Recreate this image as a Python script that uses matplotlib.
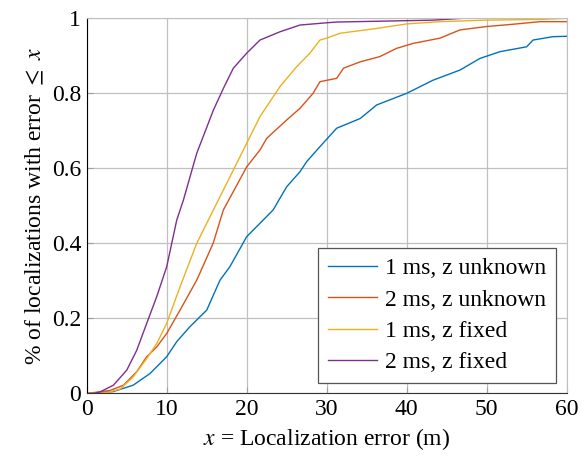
import matplotlib
matplotlib.use("Agg")
import matplotlib.pyplot as plt

plt.rcParams['font.family'] = ['Liberation Serif', 'DejaVu Serif']
plt.rcParams['mathtext.fontset'] = 'stix'

# Datos (error en m, fracción acumulada)
x_1ms_unk = [0, 3.3, 5.8, 7.9, 10, 11.25, 12.9, 15, 16.66, 17.9, 20, 23.3, 25, 26.66,
             27.5, 29.16, 31.25, 34.2, 36.25, 40, 43.3, 46.66, 49.16, 51.66, 55, 55.8, 58.3, 60]
y_1ms_unk = [0, 0.005, 0.022, 0.053, 0.098, 0.138, 0.178, 0.222, 0.302, 0.338, 0.418, 0.489, 0.551, 0.591,
             0.618, 0.658, 0.707, 0.733, 0.769, 0.8, 0.835, 0.862, 0.893, 0.911, 0.924, 0.942, 0.951, 0.952]

x_2ms_unk = [0, 2.9, 4.6, 6.25, 7.5, 8.75, 10, 11.66, 13.75, 15.8, 17.08, 20, 21.66, 22.5,
             25, 26.66, 28.3, 29.16, 31.25, 32.1, 34.2, 36.66, 38.75, 40.8, 44.16, 46.66,
             50, 53.75, 56.66, 60]
y_2ms_unk = [0, 0.008, 0.022, 0.058, 0.098, 0.124, 0.16, 0.222, 0.302, 0.4, 0.489, 0.604, 0.649, 0.68,
             0.729, 0.76, 0.8, 0.831, 0.84, 0.867, 0.884, 0.898, 0.92, 0.933, 0.947, 0.969,
             0.978, 0.985, 0.991, 0.991]

x_1ms_fix = [0, 2.5, 4.2, 5.8, 7.5, 8.75, 10, 11.66, 13.75, 15.83, 17.5, 20, 21.66, 24.16,
             26.25, 27.9, 29.16, 30, 31.66, 36.25, 40, 44.16, 50, 56.66, 60]
y_1ms_fix = [0, 0.002, 0.012, 0.044, 0.093, 0.133, 0.187, 0.284, 0.4, 0.489, 0.56, 0.667, 0.738, 0.818,
             0.871, 0.907, 0.942, 0.947, 0.96, 0.973, 0.985, 0.991, 0.995, 0.997, 1.0]

x_2ms_fix = [0, 0.8, 1.66, 3.33, 5, 6.25, 7.5, 8.75, 10, 11.25, 12.08, 13.75, 15.83, 17.08,
             18.33, 20, 21.66, 24.16, 26.66, 30, 31.25, 43.3, 47]
y_2ms_fix = [0, 0, 0.004, 0.022, 0.062, 0.115, 0.187, 0.258, 0.338, 0.462, 0.515, 0.64, 0.755, 0.813,
             0.867, 0.907, 0.942, 0.964, 0.982, 0.988, 0.99, 0.995, 1.0]

series = [
    ("1 ms, z unknown", x_1ms_unk, y_1ms_unk, "#0072BD"),
    ("2 ms, z unknown", x_2ms_unk, y_2ms_unk, "#D95319"),
    ("1 ms, z fixed", x_1ms_fix, y_1ms_fix, "#EDB120"),
    ("2 ms, z fixed", x_2ms_fix, y_2ms_fix, "#7E2F8E"),
]

xticks = [0, 10, 20, 30, 40, 50, 60]
yticks = [0, 0.2, 0.4, 0.6, 0.8, 1]
yticklabels = ["0", "0.2", "0.4", "0.6", "0.8", "1"]

fig = plt.figure(figsize=(5.86, 4.57), dpi=100)
ax = fig.add_axes([0.148, 0.139, 0.819, 0.821])

for nombre, xs, ys, color in series:
    ax.plot(xs, ys, color=color, linewidth=1.0, label=nombre)

ax.set_xlim(0, 60)
ax.set_ylim(0, 1)
ax.set_xticks(xticks)
ax.set_yticks(yticks)
ax.set_yticklabels(yticklabels)
ax.grid(True, color="#c0c0c0", linewidth=0.9)
ax.set_axisbelow(True)
ax.tick_params(direction="in", length=4, color="#a0a0a0", labelsize=17, pad=4)

for lado in ["top", "right"]:
    ax.spines[lado].set_color("#c0c0c0")
ax.spines["left"].set_color("black")
ax.spines["bottom"].set_color("#333333")

ax.set_xlabel("$x$ = Localization error (m)", fontsize=17, labelpad=4)
ax.set_ylabel(r"% of localizations with error $\leq$ $x$", fontsize=17, labelpad=4)

leg = ax.legend(loc="lower right", fontsize=17, fancybox=False, framealpha=1,
                edgecolor="#555555", borderpad=0.4, handlelength=2.1,
                handletextpad=0.35, labelspacing=0.42, borderaxespad=0.45)
leg.get_frame().set_linewidth(0.9)

fig.savefig("out.png", dpi=100)
